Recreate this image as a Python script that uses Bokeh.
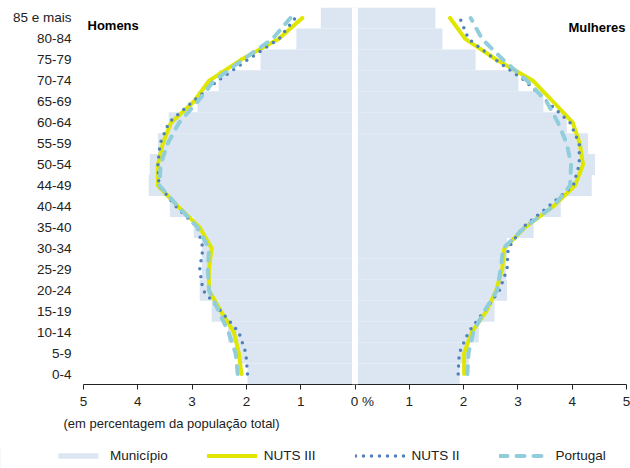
from bokeh.plotting import figure
from bokeh.models import (FactorRange, Range1d, FixedTicker, CustomJSTickFormatter,
                          Span, Label, Legend, LegendItem, Title)
from bokeh.embed import file_html
from bokeh.resources import INLINE

# ---- data (bottom to top) ----
age_groups = ["0-4", "5-9", "10-14", "15-19", "20-24", "25-29", "30-34", "35-40",
              "40-44", "44-49", "50-54", "55-59", "60-64", "65-69", "70-74",
              "75-79", "80-84", "85 e mais"]

men_municipio = [1.98, 2.16, 2.34, 2.64, 2.86, 2.82, 2.82, 2.97, 3.41, 3.80,
                 3.78, 3.63, 3.43, 2.90, 2.51, 1.74, 1.08, 0.63]
men_nuts3 = [2.09, 2.14, 2.23, 2.47, 2.69, 2.69, 2.64, 2.86, 3.26, 3.63,
             3.63, 3.54, 3.39, 2.97, 2.69, 2.10, 1.41, 0.97]
men_nuts2 = [1.98, 2.01, 2.14, 2.47, 2.80, 2.86, 2.80, 2.90, 3.30, 3.61,
             3.63, 3.59, 3.43, 2.99, 2.53, 1.98, 1.40, 1.10]
men_portugal = [2.16, 2.20, 2.33, 2.51, 2.69, 2.71, 2.69, 2.90, 3.26, 3.60,
                3.58, 3.45, 3.24, 2.90, 2.60, 2.07, 1.52, 1.19]

women_municipio = [1.93, 2.10, 2.28, 2.57, 2.80, 2.78, 2.80, 3.29, 3.79, 4.36,
                   4.42, 4.29, 3.90, 3.47, 3.01, 2.22, 1.61, 1.48]
women_nuts3 = [2.01, 2.01, 2.15, 2.42, 2.60, 2.71, 2.75, 3.13, 3.65, 4.05,
               4.20, 4.14, 4.01, 3.65, 3.28, 2.61, 2.03, 1.75]
women_nuts2 = [1.90, 1.92, 2.09, 2.38, 2.66, 2.80, 2.82, 3.09, 3.56, 4.02,
               4.13, 4.13, 3.96, 3.54, 3.13, 2.59, 2.09, 1.93]
women_portugal = [2.07, 2.09, 2.18, 2.38, 2.62, 2.68, 2.73, 3.12, 3.65, 3.96,
                  3.98, 3.90, 3.74, 3.53, 3.17, 2.73, 2.34, 2.13]

x_ticks = [-5, -4, -3, -2, -1, 0, 1, 2, 3, 4, 5]
series_names = ["Município", "NUTS III", "NUTS II", "Portugal"]

FONT = "Liberation Sans"
BAR = "#dce6f2"
YEL = "#dfe600"
BLUE = "#4f81bd"
TEAL = "#92cddc"
TXT = "#222222"

BAR_STYLE = dict(fill_color=BAR, line_color=None)
N3_STYLE = dict(line_color=YEL, line_width=4, line_join="round", line_cap="round")
N2_STYLE = dict(line_color=BLUE, line_width=3.5, line_dash="0 8", line_cap="round")
PT_STYLE = dict(line_color=TEAL, line_width=4, line_dash="8 9", line_cap="round")

p = figure(width=630, height=446, output_backend="svg", toolbar_location=None,
           y_range=FactorRange(factors=age_groups), x_range=Range1d(-5, 5),
           min_border_left=83, min_border_right=4, min_border_top=7,
           min_border_bottom=62)
p.outline_line_color = None
p.grid.visible = False
p.background_fill_color = "white"

neg = lambda a: [-v for v in a]
zeros = [0] * len(age_groups)

p.hbar(y=age_groups, left=neg(men_municipio), right=zeros, height=1.0, **BAR_STYLE)
p.hbar(y=age_groups, left=zeros, right=women_municipio, height=1.0, **BAR_STYLE)

# white separation between the two halves
p.add_layout(Span(location=0, dimension="height", line_color="white", line_width=6))

p.line(neg(men_nuts3), age_groups, **N3_STYLE)
p.line(women_nuts3, age_groups, **N3_STYLE)
p.line(neg(men_nuts2), age_groups, **N2_STYLE)
p.line(women_nuts2, age_groups, **N2_STYLE)
p.line(neg(men_portugal), age_groups, **PT_STYLE)
p.line(women_portugal, age_groups, **PT_STYLE)

# axes
xa = p.xaxis[0]
xa.ticker = FixedTicker(ticks=x_ticks)
xa.formatter = CustomJSTickFormatter(
    code="return tick == 0 ? '\\u00a0\\u00a0\\u00a0\\u00a00 %' : Math.abs(tick).toString()")
xa.minor_tick_line_color = None
xa.major_tick_in = 0
xa.major_tick_out = 5
xa.axis_line_color = TXT
xa.major_tick_line_color = TXT
xa.major_label_text_font = FONT
xa.major_label_text_font_size = "13.5px"
xa.major_label_text_color = TXT
xa.major_label_standoff = 4

ya = p.yaxis[0]
ya.axis_line_color = None
ya.major_tick_line_color = None
ya.minor_tick_line_color = None
ya.major_tick_out = 0
ya.major_tick_in = 0
ya.major_label_text_font = FONT
ya.major_label_text_font_size = "13.5px"
ya.major_label_text_color = TXT
ya.major_label_standoff = 12

# note below the axis
p.add_layout(Title(text="(em percentagem da população total)", align="left",
                   offset=-20, text_font=FONT, text_font_size="13px",
                   text_font_style="normal", text_color=TXT, standoff=4), "below")

# panel titles
p.add_layout(Label(x=4, y=359, x_units="screen", y_units="screen",
                   text="Homens", text_font=FONT, text_font_size="13px",
                   text_font_style="bold", text_color="black",
                   text_baseline="middle"))
p.add_layout(Label(x=542, y=357, x_units="screen", y_units="screen",
                   text="Mulheres", text_font=FONT, text_font_size="13px",
                   text_font_style="bold", text_color="black",
                   text_baseline="middle", text_align="right"))

# ---- legend strip (separate root, its frame spans the whole strip) ----
lg = figure(width=630, height=22, output_backend="svg", toolbar_location=None,
            x_axis_location=None, y_axis_location=None,
            y_range=FactorRange(factors=age_groups), x_range=Range1d(20, 21),
            min_border_left=0, min_border_right=0, min_border_top=0,
            min_border_bottom=0)
lg.grid.visible = False
lg.outline_line_color = None
# the series themselves, outside this strip's view: only their legend swatches show
r_bar = lg.hbar(y=age_groups, left=zeros, right=women_municipio, height=1.0, **BAR_STYLE)
r_n3 = lg.line(women_nuts3, age_groups, **N3_STYLE)
r_n2 = lg.line(women_nuts2, age_groups, **N2_STYLE)
r_pt = lg.line(women_portugal, age_groups, **PT_STYLE)

legend = Legend(items=[LegendItem(label=series_names[0], renderers=[r_bar]),
                       LegendItem(label=series_names[1], renderers=[r_n3]),
                       LegendItem(label=series_names[2], renderers=[r_n2]),
                       LegendItem(label=series_names[3], renderers=[r_pt])],
                orientation="horizontal", location=(53, 5),
                glyph_width=50, glyph_height=7, label_height=7,
                label_standoff=7, spacing=39, padding=0, margin=0,
                border_line_color=None, background_fill_alpha=0,
                label_text_font=FONT, label_text_font_size="13.5px",
                label_text_color=TXT)
lg.add_layout(legend)

open("out.html", "w").write(file_html([p, lg], INLINE))
